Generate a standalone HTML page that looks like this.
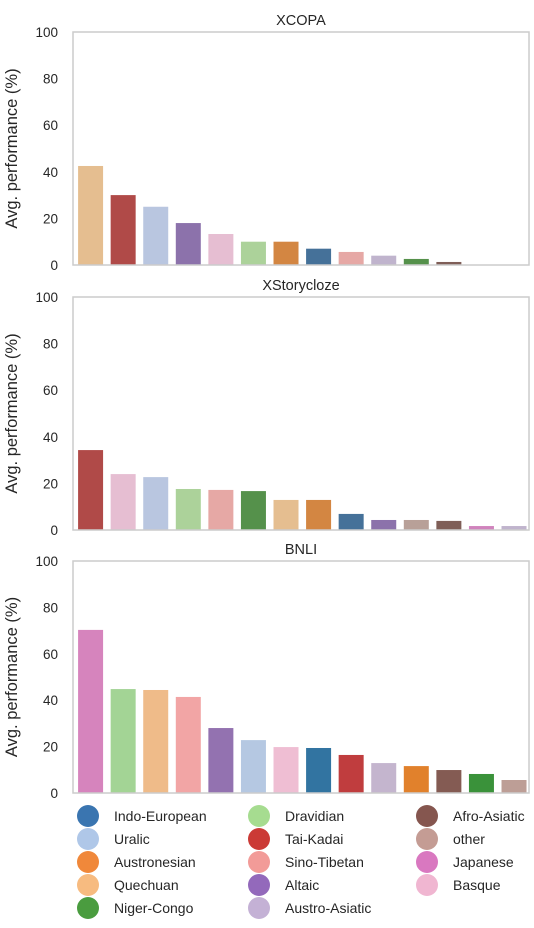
<!DOCTYPE html>
<html><head><meta charset="utf-8"><style>
body{margin:0;background:#fff;font-family:"Liberation Sans",Arial,sans-serif;}
svg text{font-family:"Liberation Sans",Arial,sans-serif;fill:#262626;}
</style></head><body>
<svg id="chart" width="534" height="923"></svg>
<script>
const families = ["Indo-European","Uralic","Austronesian","Quechuan","Niger-Congo","Dravidian","Tai-Kadai","Sino-Tibetan","Altaic","Austro-Asiatic","Afro-Asiatic","other","Japanese","Basque"];
const colorsMuted = {"Indo-European":"#457199","Uralic":"#b9c6e0","Austronesian":"#d38642","Quechuan":"#e5be90","Niger-Congo":"#55914b","Dravidian":"#acd29a","Tai-Kadai":"#b04a48","Sino-Tibetan":"#e6a8a5","Altaic":"#8c72ab","Austro-Asiatic":"#c0b4cd","Afro-Asiatic":"#7f5e57","other":"#b8a098","Japanese":"#d083bd","Basque":"#e6bed2"};
const colorsBright = {"Indo-European":"#3274a1","Uralic":"#b5c8e2","Austronesian":"#e1812c","Quechuan":"#efbb89","Niger-Congo":"#3a923a","Dravidian":"#a3d495","Tai-Kadai":"#c03d3e","Sino-Tibetan":"#f2a5a5","Altaic":"#9372b0","Austro-Asiatic":"#c4b5ce","Afro-Asiatic":"#845b53","other":"#bd9e96","Japanese":"#d684bd","Basque":"#efbed3"};
const legendColors = {"Indo-European":"#3a75b0","Uralic":"#afc7e8","Austronesian":"#f0883a","Quechuan":"#f7bb80","Niger-Congo":"#4a9c3f","Dravidian":"#a6dc90","Tai-Kadai":"#cb3a36","Sino-Tibetan":"#f29b98","Altaic":"#9369bb","Austro-Asiatic":"#c4b1d5","Afro-Asiatic":"#85564f","other":"#c49c94","Japanese":"#d978c0","Basque":"#f0b6d1"};

const xcopaCats = ["Quechuan","Tai-Kadai","Uralic","Altaic","Basque","Dravidian","Austronesian","Indo-European","Sino-Tibetan","Austro-Asiatic","Niger-Congo","Afro-Asiatic","other"];
const xcopaVals = [42.5,30,25,18,13.3,10,10,7,5.6,4,2.6,1.3,0.2];
const xstoryCats = ["Tai-Kadai","Basque","Uralic","Dravidian","Sino-Tibetan","Niger-Congo","Quechuan","Austronesian","Indo-European","Altaic","other","Afro-Asiatic","Japanese","Austro-Asiatic"];
const xstoryVals = [34.3,24,22.7,17.6,17.2,16.7,12.9,12.9,6.9,4.3,4.3,3.9,1.7,1.7];
const bnliCats = ["Japanese","Dravidian","Quechuan","Sino-Tibetan","Altaic","Uralic","Basque","Indo-European","Tai-Kadai","Austro-Asiatic","Austronesian","Afro-Asiatic","Niger-Congo","other"];
const bnliVals = [70.3,44.8,44.4,41.4,28,22.8,19.8,19.4,16.4,12.9,11.6,9.9,8.2,5.6];
const yTicks = [0,20,40,60,80,100];

const NS="http://www.w3.org/2000/svg";
const svg=document.getElementById('chart');
function mk(tag,attrs,parent){const e=document.createElementNS(NS,tag);for(const k in attrs)e.setAttribute(k,attrs[k]);(parent||svg).appendChild(e);return e;}

function panel(name,title,cats,vals,colors,top,bottom){
  const g=mk('g',{});
  
  
  const left=73,right=529,nSlots=14,step=(right-left)/nSlots,bw=25;
  const y=v=>bottom-(v/100)*(bottom-top);
  const x=i=>left+1.3+i*step+(step-bw)/2;
  cats.forEach((c,i)=>{
    const r=mk('rect',{x:x(i),y:y(vals[i]),width:bw,height:y(0)-y(vals[i]),fill:colors[c]},g);
    
    
  });
  const f=mk('rect',{x:left,y:top,width:right-left,height:bottom-top,fill:'none',stroke:'#cccccc','stroke-width':1.5},g);
  
  
  yTicks.forEach(t=>{
    const tx=mk('text',{x:58,y:y(t)+5,'text-anchor':'end','font-size':13.5},g);
    tx.textContent=t;
    
    
  });
  const tt=mk('text',{x:(left+right)/2,y:top-7,'text-anchor':'middle','font-size':14.5},g);
  tt.textContent=title;
  
  
  const cy=(top+bottom)/2;
  const yl=mk('text',{x:17,y:cy,'text-anchor':'middle','font-size':16.5,transform:`rotate(-90 17 ${cy})`},g);
  yl.textContent='Avg. performance (%)';
  
  
}
panel('xcopa','XCOPA',xcopaCats,xcopaVals,colorsMuted,32,265);
panel('xstorycloze','XStorycloze',xstoryCats,xstoryVals,colorsMuted,297,530);
panel('bnli','BNLI',bnliCats,bnliVals,colorsBright,561,793);

const legendCols=[["Indo-European","Uralic","Austronesian","Quechuan","Niger-Congo"],["Dravidian","Tai-Kadai","Sino-Tibetan","Altaic","Austro-Asiatic"],["Afro-Asiatic","other","Japanese","Basque"]];
const colX=[88,259,427];
const lg=mk('g',{});


legendCols.forEach((col,ci)=>col.forEach((c,ri)=>{
  const cy=816+ri*23;
  const eg=mk('g',{},lg);
  
  
  mk('circle',{cx:colX[ci],cy:cy,r:11,fill:legendColors[c]},eg);
  const t=mk('text',{x:colX[ci]+26,y:cy+5,'font-size':14,fill:'#333'},eg);
  t.textContent=c;
}));
</script>
</body></html>
